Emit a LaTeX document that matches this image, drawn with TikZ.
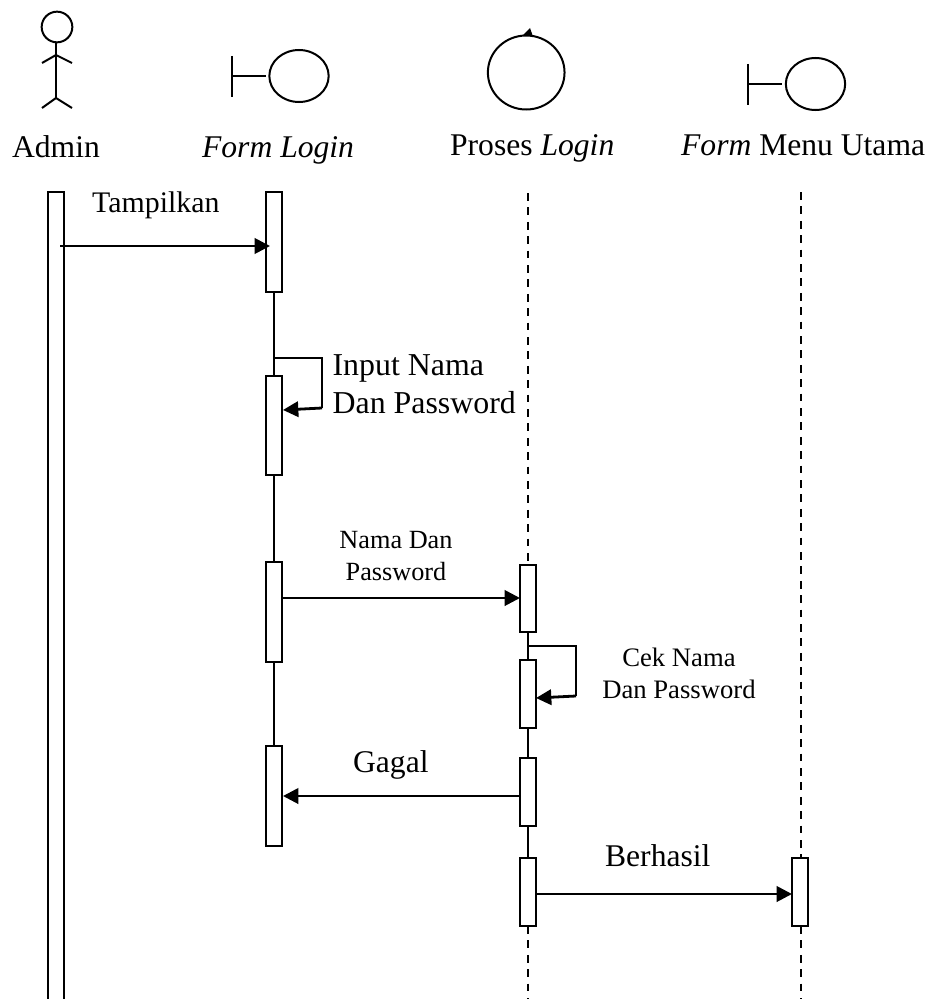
\documentclass[tikz,border=0pt]{standalone}
\usepackage{fontspec}
\setmainfont{Liberation Serif}
\usetikzlibrary{arrows.meta,calc,shapes.geometric}
\tikzset{
  x=0.75pt,y=-0.75pt,
  every path/.style={line width=1.7pt,black},
  act/.style={draw,fill=white,minimum width=12pt,minimum height=#1*0.75pt,inner sep=0pt,outer sep=0pt,line width=1.7pt},
  msg/.style={-{Triangle[length=11.5pt,width=11.5pt]},line width=2.1pt},
  life/.style={line width=1.7pt},
  dash line/.style={line width=1.5pt,dash pattern=on 5.8pt off 5pt},
  thinline/.style={line width=1.5pt},
  big/.style={font=\fontsize{23.7}{28}\selectfont,anchor=base west,inner sep=0pt},
  med/.style={font=\fontsize{22.4}{26}\selectfont,anchor=base west,inner sep=0pt},
  inputlab/.style={font=\fontsize{23.9}{28.5}\selectfont,anchor=base west,inner sep=0pt,align=left},
  namelab/.style={font=\fontsize{19.7}{23.3}\selectfont,inner sep=0pt,align=center},
  ceklab/.style={font=\fontsize{20}{24}\selectfont,inner sep=0pt,align=center},
}
\begin{document}
\begin{tikzpicture}
\useasboundingbox (0,0) rectangle (934,999);
% Actor
\node[draw,circle,thinline,minimum size=23pt,inner sep=0pt,outer sep=0pt] (head) at (57,27) {};
\coordinate (neck) at (56,55);
\coordinate (hip) at (56,98);
\coordinate (armL) at (42,63);
\coordinate (armR) at (72,63);
\coordinate (legL) at (42,108);
\coordinate (legR) at (72,108);
\draw[thinline] (head.south -| neck) -- (hip);
\draw[thinline] (armL) -- (neck) -- (armR);
\draw[thinline] (legL) -- (hip) -- (legR);
% Boundary 1
\node[draw,ellipse,thinline,minimum width=44.5pt,minimum height=39pt,inner sep=0pt,outer sep=0pt] (b1) at (299,76) {};
\coordinate (b1t) at (232,56);
\coordinate (b1b) at (232,97);
\coordinate (b1m) at (232,76);
\coordinate (b1e) at (266,76);
\draw[thinline] (b1t) -- (b1b);
\draw[thinline] (b1m) -- (b1e);
% Control
\node[draw,ellipse,thinline,minimum width=57.5pt,minimum height=55.5pt,inner sep=0pt,outer sep=0pt] (ctl) at (526.2,72.5) {};
\coordinate (ta) at (530,28);
\coordinate (tb) at (523,35);
\coordinate (tc) at (533,36.5);
\fill (ta) -- (tb) -- (tc) -- cycle;
% Boundary 2
\node[draw,ellipse,thinline,minimum width=44.5pt,minimum height=39pt,inner sep=0pt,outer sep=0pt] (b2) at (815.5,84) {};
\coordinate (b2t) at (748,64);
\coordinate (b2b) at (748,105);
\coordinate (b2m) at (748,84);
\coordinate (b2e) at (782,84);
\draw[thinline] (b2t) -- (b2b);
\draw[thinline] (b2m) -- (b2e);
% Headings
\node[big] (tAdmin) at (11,157.5) {Admin};
\node[big] (tForm) at (201,157.5) {\textit{Form Login}};
\node[big] (tProses) at (449,155) {Proses \textit{Login}};
\node[big] (tMenu) at (680,155) {\textit{Form} Menu Utama};
% Admin lifeline (open at the bottom)
\coordinate (admTL) at (48,192);
\coordinate (admTR) at (64,192);
\coordinate (admBL) at (48,1003);
\coordinate (admBR) at (64,1003);
\draw[life] (admBL) -- (admTL) -- (admTR) -- (admBR);
% Activations
\node[act=100] (f1) at (274,242) {};
\node[act=99]  (f2) at (274,425.5) {};
\node[act=100] (f3) at (274,612) {};
\node[act=100] (f4) at (274,796) {};
\node[act=67.5] (p1) at (528,598.5) {};
\node[act=68]  (p2) at (528,694) {};
\node[act=68]  (p3) at (528,792) {};
\node[act=68]  (p4) at (528,892) {};
\node[act=68]  (m1) at (800,892) {};
% Lifelines
\draw[life] (f1.south) -- (f2.north);
\draw[life] (f2.south) -- (f3.north);
\draw[life] (f3.south) -- (f4.north);
\draw[life] (p1.south) -- (p2.north);
\draw[life] (p2.south) -- (p3.north);
\draw[life] (p3.south) -- (p4.north);
\coordinate (ptop) at (528,193);
\coordinate (pbot) at (528,999);
\coordinate (mtop) at (801,192);
\coordinate (mbot) at (801,999);
\draw[dash line] (ptop) -- (p1.north);
\draw[dash line] (p4.south) -- (pbot);
\draw[dash line] (mtop) -- (m1.north -| mtop);
\draw[dash line] (m1.south -| mtop) -- (mbot);
% Messages
\coordinate (a0) at (60,246);
\coordinate (a0e) at (270,246);
\draw[msg] (a0) -- (a0e);
\node[med] (tTamp) at (91,212) {Tampilkan};
% Self 1
\coordinate (s1a) at (274,358);
\coordinate (s1b) at (322,358);
\coordinate (s1c) at (322,408);
\coordinate (s1d) at (283,410);
\draw[life,line join=miter] (s1a) -- (s1b) -- (s1c);
\draw[msg] (s1c) -- (s1d);
\node[inputlab] (tInput) at (331.5,413) {Input Nama\\Dan Password};
% Nama Dan Password
\coordinate (a2) at (282,598);
\coordinate (a2e) at (520,598);
\draw[msg] (a2) -- (a2e);
\node[namelab] (tNama) at (396,556) {Nama Dan\\Password};
% Self 2
\coordinate (s2a) at (527,646);
\coordinate (s2b) at (576,646);
\coordinate (s2c) at (576,696);
\coordinate (s2d) at (536,698);
\draw[thinline] (s2a) -- (s2b) -- (s2c);
\draw[msg] (s2c) -- (s2d);
\node[ceklab] (tCek) at (679,673) {Cek Nama\\Dan Password};
% Gagal
\coordinate (a3) at (520,796);
\coordinate (a3e) at (283,796);
\draw[msg] (a3) -- (a3e);
\node[big] (tGagal) at (352,772) {Gagal};
% Berhasil
\coordinate (a4) at (536,894);
\coordinate (a4e) at (792,894);
\draw[msg] (a4) -- (a4e);
\node[big] (tBer) at (604,866) {Berhasil};
\end{tikzpicture}
\end{document}
